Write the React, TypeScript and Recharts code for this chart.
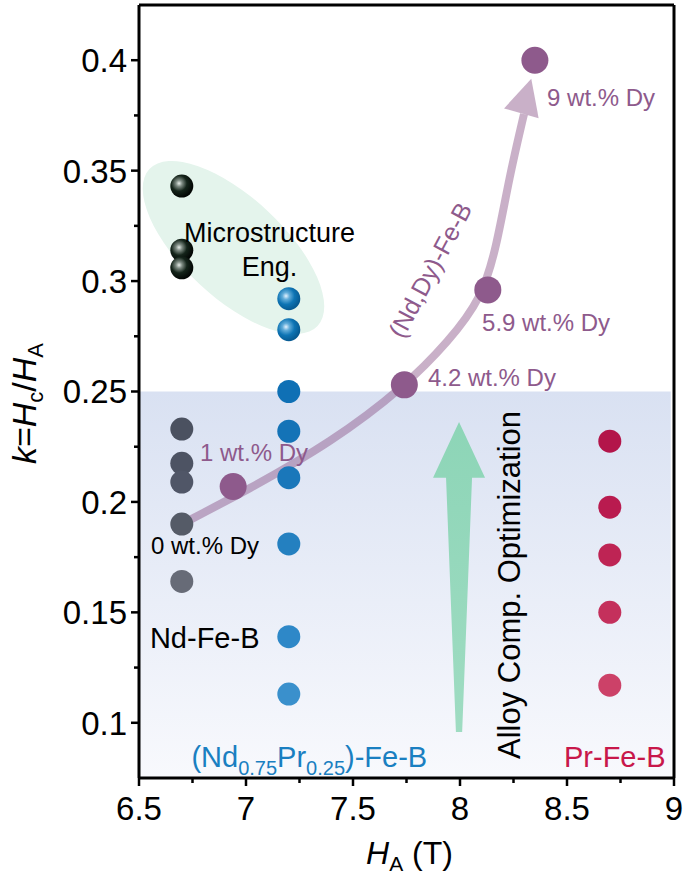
import React from "react";
import {
  ComposedChart,
  Scatter,
  Line,
  XAxis,
  YAxis,
  ReferenceArea,
  ReferenceLine,
  Cell,
} from "recharts";

// ---- data ----
const ndMicroH = [6.7, 6.7, 6.7];
const ndMicroK = [0.343, 0.314, 0.306];
const ndH = [6.7, 6.7, 6.7, 6.7, 6.7];
const ndK = [0.233, 0.2175, 0.209, 0.19, 0.164];
const ndPrMicroH = [7.2, 7.2];
const ndPrMicroK = [0.292, 0.278];
const ndPrH = [7.2, 7.2, 7.2, 7.2, 7.2, 7.2];
const ndPrK = [0.25, 0.232, 0.211, 0.181, 0.139, 0.113];
const prH = [8.7, 8.7, 8.7, 8.7, 8.7];
const prK = [0.2275, 0.1976, 0.176, 0.15, 0.117];
const dyH = [6.94, 7.74, 8.13, 8.35];
const dyK = [0.207, 0.253, 0.296, 0.4];
const dyLabels = ["1 wt.% Dy", "4.2 wt.% Dy", "5.9 wt.% Dy", "9 wt.% Dy"];

// guide curve for the (Nd,Dy)-Fe-B trend arrow (control points)
const trendH = [6.71, 7.0, 7.4, 7.74, 7.95, 8.1, 8.17, 8.23, 8.299];
const trendK = [0.1905, 0.205, 0.227, 0.252, 0.273, 0.292, 0.315, 0.347, 0.3756];
const trendTip = { x: 8.333, y: 0.3916 };

const xMajor = [6.5, 7, 7.5, 8, 8.5, 9];
const xMinor = [6.75, 7.25, 7.75, 8.25, 8.75];
const yMajor = [0.1, 0.15, 0.2, 0.25, 0.3, 0.35, 0.4];
const yMinor = [0.125, 0.175, 0.225, 0.275, 0.325, 0.375];

const zip = (xs: number[], ys: number[]) => xs.map((x, i) => ({ x, y: ys[i] }));

// ---- colours ----
const ndColors = ["#4b5160", "#4d5363", "#505667", "#555b67", "#676b77"];
const ndPrColors = ["#0f70b5", "#1473b7", "#1a77ba", "#2480c0", "#2e88c8", "#3a90cc"];
const prColors = ["#b3154a", "#b91b4f", "#be2454", "#c4305c", "#cc4168"];
const purple = "#8e5a8c";
const FONT = "'Liberation Sans', Arial, sans-serif";

const notes = [
  { x: 7.11, y: 0.3222, text: "Microstructure", size: 27, color: "#000", anchor: "middle" },
  { x: 7.11, y: 0.3068, text: "Eng.", size: 27, color: "#000", anchor: "middle" },
  { x: 6.556, y: 0.1805, text: "0 wt.% Dy", size: 24, color: "#000", anchor: "start" },
  { x: 6.785, y: 0.2226, text: dyLabels[0], size: 24, color: purple, anchor: "start" },
  { x: 7.85, y: 0.2566, text: dyLabels[1], size: 24, color: purple, anchor: "start" },
  { x: 8.103, y: 0.2815, text: dyLabels[2], size: 24, color: purple, anchor: "start" },
  { x: 8.407, y: 0.3833, text: dyLabels[3], size: 24, color: purple, anchor: "start" },
  { x: 7.86, y: 0.305, text: "(Nd,Dy)-Fe-B", size: 25, color: purple, anchor: "middle", rotate: -62 },
  { x: 6.551, y: 0.1388, text: "Nd-Fe-B", size: 29, color: "#000", anchor: "start" },
  { x: 8.486, y: 0.0845, text: "Pr-Fe-B", size: 29, color: "#c8174a", anchor: "start" },
  { x: 8.229, y: 0.1624, text: "Alloy Comp. Optimization", size: 31, color: "#000", anchor: "middle", rotate: -90 },
  { x: 6.745, y: 0.0845, text: "", size: 29, color: "#1a7fc1", anchor: "start", sub: true },
];

const isMajor = (v: number, step: number) => Math.abs(v / step - Math.round(v / step)) < 1e-6;

const YTick = ({ x, y, payload }: any) => {
  const major = isMajor(payload.value, 0.05);
  return (
    <g>
      <line x1={x - (major ? 8 : 5)} x2={x} y1={y} y2={y} stroke="#000" strokeWidth={2.5} />
      {major && (
        <text x={x - 12} y={y} dy="0.36em" textAnchor="end" fontSize={33} fontFamily={FONT} fill="#000">
          {String(Number(payload.value.toFixed(2)))}
        </text>
      )}
    </g>
  );
};

const XTick = ({ x, y, payload }: any) => {
  const major = isMajor(payload.value, 0.5);
  return (
    <g>
      <line x1={x} x2={x} y1={y} y2={y + (major ? 8 : 5)} stroke="#000" strokeWidth={2.5} />
      {major && (
        <text x={x} y={y + 42} textAnchor="middle" fontSize={33} fontFamily={FONT} fill="#000">
          {String(payload.value)}
        </text>
      )}
    </g>
  );
};

const Dot = (r: number) => (p: any) => <circle cx={p.cx} cy={p.cy} r={r} fill={p.fill} />;
const Ball = (grad: string) => (p: any) => <circle cx={p.cx} cy={p.cy} r={11.5} fill={`url(#${grad})`} />;

const NoteShape = (p: any) => {
  const n = p.payload;
  const t = n.rotate ? `rotate(${n.rotate} ${p.cx} ${p.cy})` : undefined;
  if (n.sub) {
    return (
      <text x={p.cx} y={p.cy} dy="0.36em" fontSize={n.size} fill={n.color} fontFamily={FONT}>
        (Nd
        <tspan dy={8} fontSize={20}>0.75</tspan>
        <tspan dy={-8}>Pr</tspan>
        <tspan dy={8} fontSize={20}>0.25</tspan>
        <tspan dy={-8}>)-Fe-B</tspan>
      </text>
    );
  }
  return (
    <text x={p.cx} y={p.cy} dy="0.36em" textAnchor={n.anchor} fontSize={n.size} fill={n.color} fontFamily={FONT} transform={t}>
      {n.text}
    </text>
  );
};

const ArrowHead = (p: any) => (
  <polygon
    points="0,0 18,36 -18,36"
    transform={`translate(${p.cx} ${p.cy}) rotate(16)`}
    fill={purple}
    fillOpacity={0.48}
  />
);

const GreenArrow = ({ x, y, width: w, height: h }: any) => {
  const cx = x + w / 2;
  const hb = y + 0.18 * h;
  const pts = [
    [cx, y],
    [x + w, hb],
    [cx + 0.25 * w, hb],
    [cx + 0.06 * w, y + h],
    [cx - 0.06 * w, y + h],
    [cx - 0.25 * w, hb],
    [x, hb],
  ]
    .map((q) => q.join(","))
    .join(" ");
  return <polygon points={pts} fill="url(#greenGrad)" />;
};

const Blob = ({ x, y, width, height }: any) => {
  const cx = x + width / 2;
  const cy = y + height / 2;
  return <ellipse cx={cx} cy={cy} rx={115} ry={50} transform={`rotate(43 ${cx} ${cy})`} fill="#e4f4ec" />;
};

const YTitle = ({ viewBox }: any) => {
  const cy = viewBox.y + viewBox.height / 2 + 12;
  return (
    <text transform={`translate(36 ${cy}) rotate(-90)`} textAnchor="middle" fontSize={34} fontFamily={FONT} fill="#000">
      <tspan fontStyle="italic">k</tspan>=<tspan fontStyle="italic">H</tspan>
      <tspan dy={7} fontSize={22}>c</tspan>
      <tspan dy={-7}>/</tspan>
      <tspan fontStyle="italic">H</tspan>
      <tspan dy={7} fontSize={22}>A</tspan>
    </text>
  );
};

const XTitle = ({ viewBox }: any) => (
  <text x={viewBox.x + viewBox.width / 2 + 3} y={viewBox.y + 86} textAnchor="middle" fontSize={32} fontFamily={FONT} fill="#000">
    <tspan fontStyle="italic">H</tspan>
    <tspan dy={7} fontSize={21}>A</tspan>
    <tspan dy={-7}> (T)</tspan>
  </text>
);

export default function App() {
  return (
    <div style={{ position: "absolute", left: 0, top: 0, width: 685, height: 884, background: "#fff" }}>
      <ComposedChart width={685} height={884} margin={{ top: 5, right: 11, bottom: 0, left: 0 }}>
        <defs>
          <linearGradient id="bgGrad" x1="0" y1="0" x2="0" y2="1">
            <stop offset="0%" stopColor="#d9e1f2" />
            <stop offset="100%" stopColor="#f8f9fd" />
          </linearGradient>
          <linearGradient id="greenGrad" x1="0" y1="0" x2="0" y2="1">
            <stop offset="0%" stopColor="#8dd5b7" />
            <stop offset="100%" stopColor="#9fdcc2" />
          </linearGradient>
          <radialGradient id="blackBall" cx="0.38" cy="0.38" r="0.62">
            <stop offset="0%" stopColor="#e6ece8" />
            <stop offset="22%" stopColor="#7d8a82" />
            <stop offset="55%" stopColor="#14241a" />
            <stop offset="100%" stopColor="#020604" />
          </radialGradient>
          <radialGradient id="blueBall" cx="0.38" cy="0.38" r="0.62">
            <stop offset="0%" stopColor="#e4f2ff" />
            <stop offset="25%" stopColor="#62acd9" />
            <stop offset="60%" stopColor="#0e74b4" />
            <stop offset="100%" stopColor="#075a92" />
          </radialGradient>
        </defs>
        <XAxis
          type="number"
          dataKey="x"
          domain={[6.5, 9]}
          ticks={[...xMajor, ...xMinor].sort((a, b) => a - b)}
          interval={0}
          tickSize={0}
          tickMargin={0}
          tickLine={false}
          tick={XTick}
          height={106}
          axisLine={{ stroke: "#000", strokeWidth: 3 }}
          label={{ content: XTitle }}
          allowDataOverflow
        />
        <YAxis
          type="number"
          dataKey="y"
          domain={[0.075, 0.425]}
          ticks={[...yMajor, ...yMinor].sort((a, b) => a - b)}
          interval={0}
          tickSize={0}
          tickMargin={0}
          tickLine={false}
          tick={YTick}
          width={139}
          axisLine={{ stroke: "#000", strokeWidth: 3 }}
          label={{ content: YTitle }}
          allowDataOverflow
        />
        <ReferenceArea x1={6.5} x2={8.985} y1={0.075} y2={0.25} fill="url(#bgGrad)" fillOpacity={1} stroke="none" />
        <ReferenceArea x1={6.528} x2={7.355} y1={0.2756} y2={0.3548} shape={Blob} />
        <ReferenceArea x1={7.874} x2={8.117} y1={0.0958} y2={0.2362} shape={GreenArrow} />
        <ReferenceLine y={0.425} stroke="#000" strokeWidth={3} />
        <ReferenceLine x={9} stroke="#000" strokeWidth={3} />

        <Scatter data={zip(ndH, ndK)} dataKey="y" shape={Dot(11.5)} isAnimationActive={false}>
          {ndColors.map((c, i) => (
            <Cell key={i} fill={c} />
          ))}
        </Scatter>
        <Scatter data={zip(ndMicroH, ndMicroK)} dataKey="y" shape={Ball("blackBall")} isAnimationActive={false} />
        <Scatter data={zip(ndPrH, ndPrK)} dataKey="y" shape={Dot(11.5)} isAnimationActive={false}>
          {ndPrColors.map((c, i) => (
            <Cell key={i} fill={c} />
          ))}
        </Scatter>
        <Scatter data={zip(ndPrMicroH, ndPrMicroK)} dataKey="y" shape={Ball("blueBall")} isAnimationActive={false} />
        <Scatter data={zip(prH, prK)} dataKey="y" shape={Dot(11.5)} isAnimationActive={false}>
          {prColors.map((c, i) => (
            <Cell key={i} fill={c} />
          ))}
        </Scatter>
        <Scatter data={zip(dyH, dyK)} dataKey="y" fill={purple} shape={Dot(13.5)} isAnimationActive={false} />
        <Line
          data={zip(trendH, trendK)}
          dataKey="y"
          type="basis"
          stroke={purple}
          strokeOpacity={0.48}
          strokeWidth={8}
          dot={false}
          activeDot={false}
          isAnimationActive={false}
        />
        <Scatter data={[trendTip]} dataKey="y" shape={ArrowHead} isAnimationActive={false} />
        <Scatter data={notes} dataKey="y" shape={NoteShape} isAnimationActive={false} />
      </ComposedChart>
    </div>
  );
}
